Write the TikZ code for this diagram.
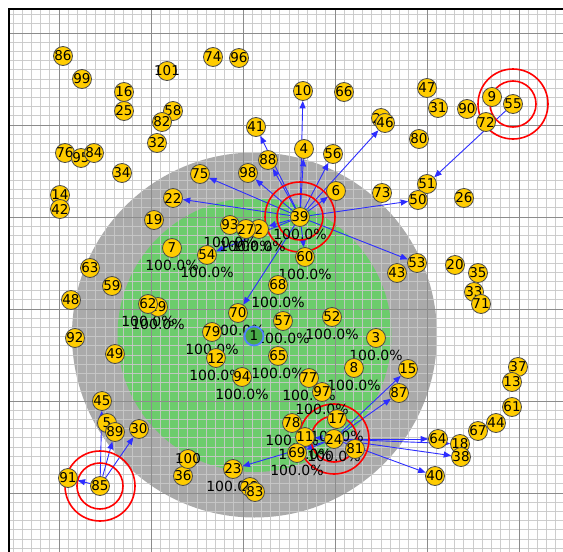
\documentclass[tikz,border=0pt]{standalone}
\usepackage{fontspec}
\setmainfont{DejaVu Sans}
\usetikzlibrary{arrows.meta}
\pgfdeclarelayer{bg}
\pgfdeclarelayer{gridl}
\pgfdeclarelayer{edges}
\pgfdeclarelayer{labels}
\pgfsetlayers{bg,gridl,edges,labels,main}
\definecolor{zonegray}{RGB}{170,170,170}
\definecolor{zonegreen}{RGB}{108,204,108}
\definecolor{nodeyellow}{RGB}{255,204,0}
\definecolor{minorgrid}{RGB}{200,200,200}
\definecolor{majorgrid}{RGB}{140,140,140}
\definecolor{arrowblue}{RGB}{45,45,255}
\definecolor{apgreen}{RGB}{72,170,72}
\definecolor{apblue}{RGB}{80,130,255}
\tikzset{
  sta/.style={circle, draw=black!70, line width=0.8pt, fill=nodeyellow, minimum size=19pt, inner sep=0pt, font=\fontsize{13.5}{13.5}\selectfont},
  apnode/.style={circle, draw=apblue, line width=1.8pt, fill=apgreen, minimum size=19pt, inner sep=0pt, font=\fontsize{13.5}{13.5}\selectfont},
  link/.style={draw=arrowblue, line width=0.9pt, -{Triangle[length=7.5pt,width=6pt]}},
  ring/.style={draw=red, line width=1.6pt},
  pct/.style={font=\fontsize{14}{14}\selectfont, inner sep=0pt},
  minorline/.style={draw=minorgrid, line width=1pt, opacity=0.9},
  majorline/.style={draw=majorgrid, line width=1pt},
  framel/.style={draw=black, line width=1.2pt}
}
\begin{document}
\begin{tikzpicture}[x=1pt,y=-1pt]
\useasboundingbox (0,0) rectangle (563,552);
\begin{pgfonlayer}{bg}
  \fill[white] (0,0) rectangle (563,552);
  \fill[zonegray] (254.5,335) circle[radius=182.5pt];
  \fill[zonegreen] (254.5,335) circle[radius=137pt];
\end{pgfonlayer}
\begin{pgfonlayer}{gridl}
  \begin{scope}
    \clip (9,9) rectangle (563,552);
    \foreach \j in {-5,...,54} \draw[minorline] ({59+9.2*\j},9) -- ({59+9.2*\j},552);
    \foreach \j in {-2,...,56} \draw[minorline] (9,{33+9.2*\j}) -- (563,{33+9.2*\j});
    \foreach \k in {0,...,5} {
      \draw[majorline] ({59+92*\k},9) -- ({59+92*\k},552);
      \draw[majorline] (9,{33+92*\k}) -- (563,{33+92*\k});
    }
  \end{scope}
  \draw[framel] (9,552) -- (9,9) -- (563,9);
\end{pgfonlayer}
% nodes
\foreach \n/\x/\y in {3/376/338,4/304/149,5/107/423,6/336/191,7/172/248,8/354/368,9/492/97,10/303/91,12/216/358,14/60/195,15/408/369,16/124/92,17/337/419,18/460/444,19/154/220,20/455/265,22/173/198,23/233/469,24/334/439,25/124/111,26/464/198,28/250/487,29/158/307,30/139/429,31/438/108,32/157/143,33/474/292,34/122/173,35/478/273,36/183/476,37/518/367,13/512/382,38/461/457,39/300/217,40/435/476,41/256/127,42/60/209,43/397/273,44/496/423,21/381/118,46/385/123,45/102/401,47/427/88,48/71/300,49/115/354,51/427/184,50/418/200,52/332/317,53/417/263,54/207/255,55/513/104,56/333/154,57/283/321,58/173/111,59/112/286,60/305/257,61/512/407,62/148/304,63/90/268,64/438/439,65/278/356,66/344/92,67/478/431,68/278/285,70/238/313,71/481/304,72/486/122,73/382/193,74/213/57,75/200/174,76/65/153,95/81/158,84/94/153,77/309/378,78/292/423,11/305/437,69/297/453,79/212/332,80/419/139,81/355/449,82/162/122,83/255/492,85/100/486,86/63/56,87/399/393,88/268/160,89/115/432,90/467/109,91/68/478,92/75/338,2/259/229,93/230/225,27/246/229,94/242/377,96/239/58,97/322/392,98/248/173,99/82/79,100/188/459,101/167/71}
  \node[sta] (n\n) at (\x,\y) {\makebox[0pt]{\n}};
\node[apnode] (n1) at (254,336) {\makebox[0pt]{1}};
% labels
\begin{pgfonlayer}{labels}
  \foreach \n in {2,3,7,8,11,12,17,23,24,27,29,39,52,54,57,60,62,65,68,69,70,77,78,79,93,94,97}
    \node[pct] (p\n) at ([yshift=-17pt]n\n.center) {100.0\%};
\end{pgfonlayer}
% links and rings
\begin{pgfonlayer}{edges}
  \foreach \t in {10,4,41,88,98,75,56,6,46,22,50,53,60,54,70,2}
    \draw[link] (n39) -- (n\t);
  \foreach \t in {87,15,64,18,38,40,11,69,23}
    \draw[link] (n24) -- (n\t);
  \draw[link] (n55) -- (n51);
  \foreach \t in {91,45,89,30}
    \draw[link] (n85) -- (n\t);
  \foreach \c in {39,55,85,24} {
    \draw[ring] (n\c.center) circle[radius=35pt];
    \draw[ring] (n\c.center) circle[radius=23pt];
  }
\end{pgfonlayer}
\end{tikzpicture}
\end{document}
